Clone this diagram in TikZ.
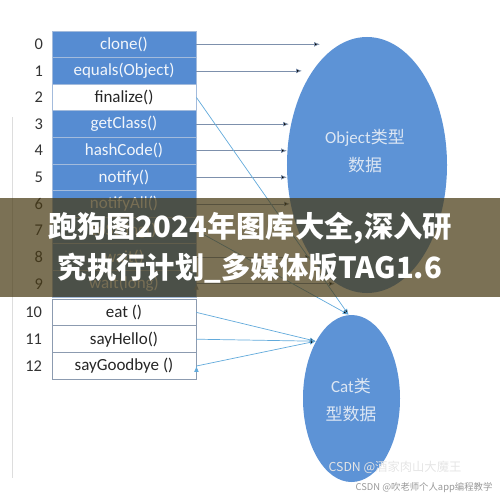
\documentclass[tikz,border=0pt]{standalone}
\usepackage{fontspec}
\setmainfont{Carlito}
\newfontfamily\cjk{Noto Sans CJK SC}
\usetikzlibrary{arrows.meta,shapes.geometric,positioning}

\definecolor{slotblue}{HTML}{568CD2}
\definecolor{slotline}{HTML}{A3BBDC}
\definecolor{slottext}{HTML}{F2F6FB}
\definecolor{catline}{HTML}{8C9BB0}
\definecolor{blobblue}{HTML}{5D93D6}
\definecolor{blobtext}{HTML}{DCE6F3}
\definecolor{objarrow}{HTML}{7D90AC}
\definecolor{catarrow}{HTML}{62AADB}
\definecolor{bannerfill}{RGB}{72,58,20}
\definecolor{framegray}{HTML}{DDDDDD}

\begin{document}
\begin{tikzpicture}[x=0.03cm, y=-0.03cm, thick]

\tikzstyle{slot} = [rectangle, minimum width=4.32cm, minimum height=0.798cm, inner sep=0pt, font=\fontsize{14.5}{16}\selectfont]
\tikzstyle{objslot} = [slot, draw=slotline, fill=slotblue, text=slottext]
\tikzstyle{catslot} = [slot, draw=catline, fill=white, text=black!85, minimum height=0.804cm]
\tikzstyle{idx} = [inner sep=0pt, font=\fontsize{14}{16}\selectfont, text=black!80]
\tikzstyle{blob} = [ellipse, fill=blobblue, inner sep=0pt]
\tikzstyle{blobtext} = [align=center, text=blobtext, font=\fontsize{14.5}{24}\selectfont]
\tikzstyle{toobj} = [-{Latex[length=5pt,width=4pt]}, draw=objarrow, semithick]
\tikzstyle{tocat} = [-{Latex[length=5pt,width=4pt]}, draw=catarrow, semithick]
\tikzstyle{adtext} = [text=white, font=\cjk\bfseries\fontsize{25}{30}\selectfont]

\useasboundingbox (0,0) rectangle (500,496);

\draw[framegray, thin] (12,117) -- (12,478);

% the two type data blobs
\node[blob, minimum width=4.8cm, minimum height=7.68cm] at (367,165) (obj) {};
\node[blobtext] at (365,151) (objtext) {Object{\cjk 类型}\\{\cjk 数据}};

\node[blob, minimum width=2.91cm, minimum height=5.01cm] at (351.5,398.5) (cat) {};
\node[blobtext] at (351,400) (cattext) {Cat{\cjk 类}\\{\cjk 型数据}};

% method table
\node[objslot] at (124,44.3) (r0) {clone()};
\node[objslot] at (124,70.9) (r1) {equals(Object)};
\node[objslot, fill=white, text=black!85] at (124,97.5) (r2) {finalize()};
\node[objslot] at (124,124.1) (r3) {getClass()};
\node[objslot] at (124,150.7) (r4) {hashCode()};
\node[objslot] at (124,177.3) (r5) {notify()};
\node[objslot] at (124,203.9) (r6) {notifyAll()};
\node[objslot] at (124,230.5) (r7) {toString()};
\node[objslot] at (124,257.1) (r8) {wait()};
\node[objslot] at (124,283.7) (r9) {wait(long)};

\node[catslot] at (124,312.4) (r10) {eat ()};
\node[catslot] at (124,339.2) (r11) {sayHello()};
\node[catslot] at (124,366) (r12) {sayGoodbye ()};

\node[idx, left=0.24cm of r0] (n0) {0};
\node[idx, left=0.24cm of r1] (n1) {1};
\node[idx, left=0.24cm of r2] (n2) {2};
\node[idx, left=0.24cm of r3] (n3) {3};
\node[idx, left=0.24cm of r4] (n4) {4};
\node[idx, left=0.24cm of r5] (n5) {5};
\node[idx, left=0.24cm of r6] (n6) {6};
\node[idx, left=0.24cm of r7] (n7) {7};
\node[idx, left=0.24cm of r8] (n8) {8};
\node[idx, left=0.24cm of r9] (n9) {9};
\node[idx, left=0.27cm of r10] (n10) {10};
\node[idx, left=0.27cm of r11] (n11) {11};
\node[idx, left=0.27cm of r12] (n12) {12};

\coordinate (e0) at (320,44.3);
\coordinate (e1) at (302,70.9);
\coordinate (e3) at (289,124.1);
\coordinate (e4) at (287,150.7);
\coordinate (e5) at (287,177.3);
\coordinate (e6) at (290,203.9);
\coordinate (e8) at (311,257.1);
\coordinate (e9) at (335,283.7);

\path[toobj]
  (r0.east) edge (e0)
  (r1.east) edge (e1)
  (r3.east) edge (e3)
  (r4.east) edge (e4)
  (r5.east) edge (e5)
  (r6.east) edge (e6)
  (r8.east) edge (e8)
  (r9.east) edge (e9)
;

\path[tocat]
  (r2.east) edge (cat.92)
  (r7.east) edge (cat.92)
  (r10.east) edge (cat.122)
  (r11.east) edge (cat.122)
  (r12.east) edge (cat.122)
;

% banner over the middle
\fill[bannerfill, fill opacity=0.72] (0,198) rectangle (500,297);
\node[adtext] at (250,228) (ad1) {跑狗图2024年图库大全,深入研};
\node[adtext] at (250,268) (ad2) {究执行计划\_多媒体版TAG1.6};

\node[text=white!80!gray, font=\cjk\fontsize{10.5}{12}\selectfont] at (395,467) (wm1) {CSDN @酒家肉山大魔王};
\node[text=black!40, font=\cjk\fontsize{8}{10}\selectfont] at (424,488) (wm2) {CSDN @吹老师个人app编程教学};

\end{tikzpicture}
\end{document}
